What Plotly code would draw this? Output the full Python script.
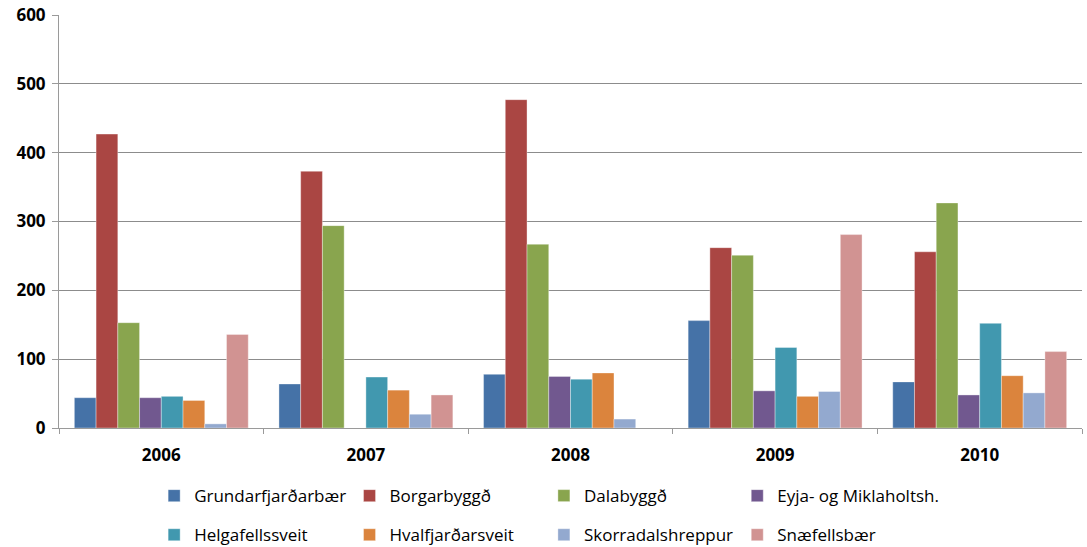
import plotly.graph_objects as go

years = ["2006", "2007", "2008", "2009", "2010"]
series_names = ["Grundarfjarðarbær", "Borgarbyggð", "Dalabyggð", "Eyja- og Miklaholtsh.",
                "Helgafellssveit", "Hvalfjarðarsveit", "Skorradalshreppur", "Snæfellsbær"]
grundarfjardarbaer = [44, 64, 78, 156, 67]
borgarbyggd = [427, 373, 477, 262, 256]
dalabyggd = [153, 294, 267, 251, 327]
eyja_miklaholtsh = [44, 0, 75, 54, 48]
helgafellssveit = [46, 74, 71, 117, 152]
hvalfjardarsveit = [40, 55, 80, 46, 76]
skorradalshreppur = [6, 20, 13, 53, 51]
snaefellsbaer = [136, 48, 0, 281, 111]
colors = ["#4572A7", "#AA4643", "#89A54E", "#71588F", "#4198AF", "#DB843D", "#93A9CF", "#D19392"]

values = [grundarfjardarbaer, borgarbyggd, dalabyggd, eyja_miklaholtsh,
          helgafellssveit, hvalfjardarsveit, skorradalshreppur, snaefellsbaer]

FONT = "Open Sans, Lato, sans-serif"
legend_ids = ["legend", "legend2", "legend3", "legend4"]

fig = go.Figure()
for i, (name, vals, col) in enumerate(zip(series_names, values, colors)):
    fig.add_trace(go.Bar(
        x=years, y=vals, name=name,
        marker=dict(color=col, line=dict(color="rgba(255,255,255,0.6)", width=0.6)),
        legend=legend_ids[i % 4], legendgroup=f"g{i}",
    ))

legend_x = [0.093, 0.284, 0.474, 0.663]
legend_cfg = {}
for lid, lx in zip(legend_ids, legend_x):
    legend_cfg[lid] = dict(
        x=lx, y=0.126, xref="paper", yref="container",
        xanchor="left", yanchor="top", orientation="v",
        font=dict(family=FONT, size=17, color="#000000"),
        itemwidth=30, tracegroupgap=14,
        bgcolor="rgba(0,0,0,0)", traceorder="grouped",
    )

fig.update_layout(
    width=1087, height=547,
    margin=dict(l=59, r=5, t=15, b=119),
    paper_bgcolor="white", plot_bgcolor="white",
    barmode="group", bargap=0.15, bargroupgap=0,
    font=dict(family=FONT, color="#000000"),
    showlegend=True,
    **legend_cfg,
    xaxis=dict(
        automargin=False,
        tickson="boundaries", ticks="outside", ticklen=5, tickcolor="#9a9a9a",
        showline=True, linecolor="#9a9a9a", linewidth=1,
        tickfont=dict(size=17, family=FONT, weight="bold"),
        ticklabelstandoff=12,
        showgrid=False,
    ),
    yaxis=dict(
        automargin=False,
        range=[0, 600], dtick=100, ticks="outside", ticklen=6, tickcolor="#9a9a9a",
        showline=True, linecolor="#9a9a9a", linewidth=1,
        gridcolor="#8c8c8c", gridwidth=1,
        tickfont=dict(size=17, family=FONT, weight="bold"),
        ticklabelstandoff=3,
        zeroline=False,
    ),
)

fig.write_html("out.html", config={"displayModeBar": False},
               post_script="document.body.style.margin='0';")
